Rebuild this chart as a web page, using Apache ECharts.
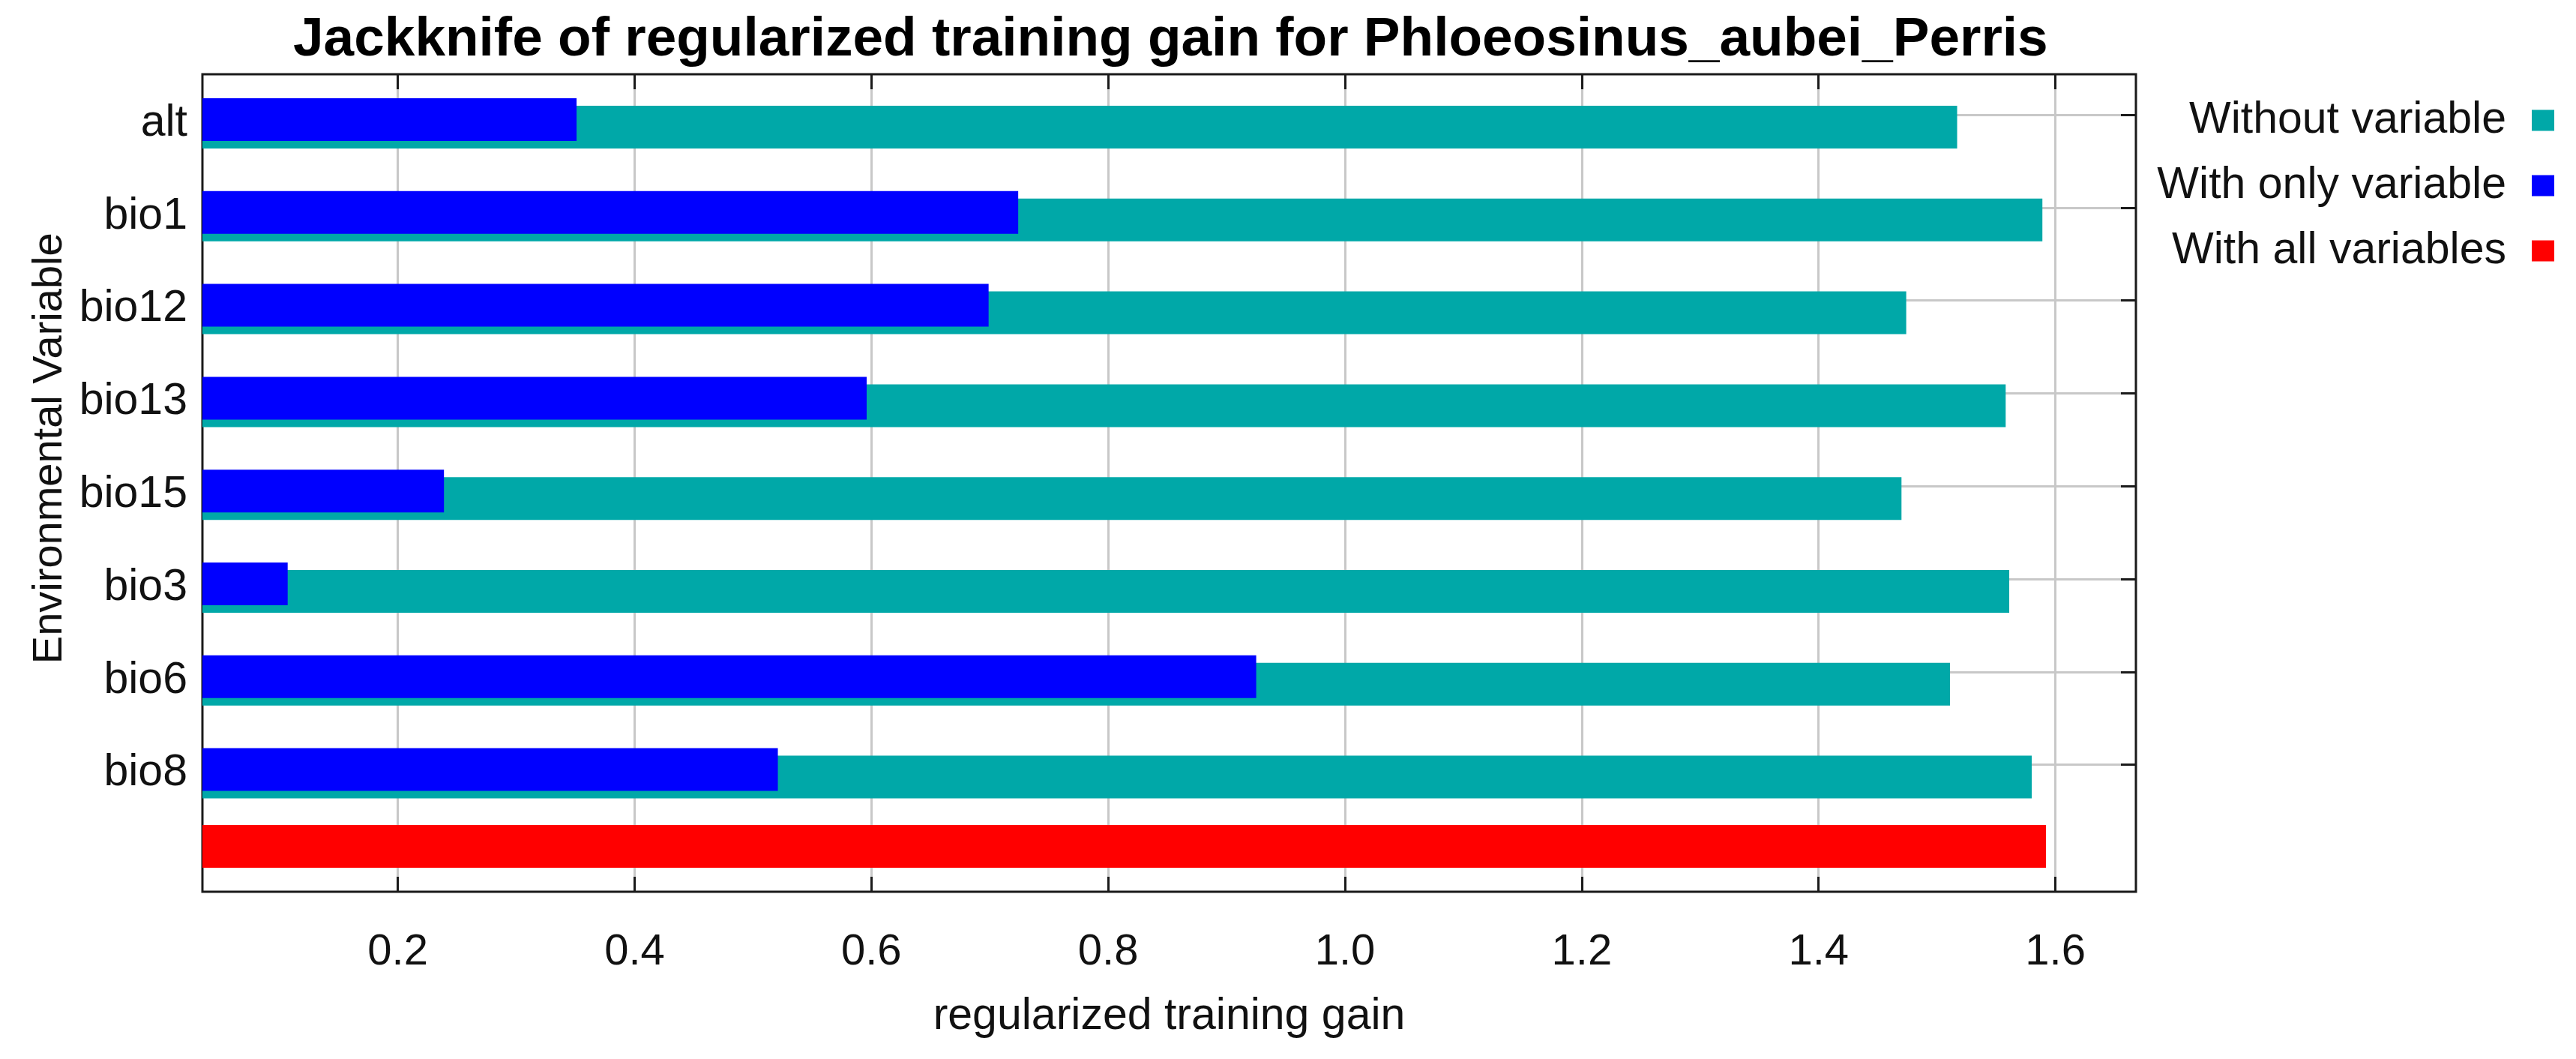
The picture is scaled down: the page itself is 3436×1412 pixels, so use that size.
<!DOCTYPE html>
<html><head><meta charset="utf-8">
<script src="https://cdn.jsdelivr.net/npm/echarts@6/dist/echarts.min.js"></script>
<style>html,body{margin:0;padding:0;background:#fff}#c{width:3436px;height:1412px}</style>
</head><body><div id="c"></div>
<script>
const categories = ['alt','bio1','bio12','bio13','bio15','bio3','bio6','bio8'];
const withoutVariable = [1.517, 1.589, 1.474, 1.558, 1.470, 1.561, 1.511, 1.580];
const withOnlyVariable = [0.351, 0.724, 0.699, 0.596, 0.239, 0.107, 0.925, 0.521];
const withAllVariables = [1.592];
const xTicks = [0.2, 0.4, 0.6, 0.8, 1.0, 1.2, 1.4, 1.6];
const xMin = 0.035, xMax = 1.668;
const seriesNames = ['Without variable', 'With only variable', 'With all variables'];
const colors = ['#00A8A8', '#0000FF', '#FF0000'];

const FONT = 'Liberation Sans, Arial, sans-serif';
const L = 270, R = 587;
const dark = '#1a1a1a', gridGray = '#c8c8c8';

const chart = echarts.init(document.getElementById('c'), null, {renderer: 'canvas'});
const allCats = categories.concat(['']);
const redData = categories.map(() => '-').concat(withAllVariables);

chart.setOption({
  animation: false,
  backgroundColor: '#fff',
  title: {
    text: 'Jackknife of regularized training gain for Phloeosinus_aubei_Perris',
    left: 386, top: 12,
    textStyle: {fontSize: 73, fontWeight: 'bold', color: '#000', fontFamily: FONT}
  },
  legend: {
    orient: 'vertical', right: 24, top: 126, align: 'right',
    itemWidth: 30, itemHeight: 28, itemGap: 28, icon: 'rect',
    selectedMode: false,
    data: seriesNames,
    textStyle: {fontSize: 59, color: '#111', fontFamily: FONT, padding: [0, 29, 0, 0]}
  },
  grid: [
    {left: L, right: R, top: 99, bottom: 223, show: true, borderColor: dark, borderWidth: 3, backgroundColor: 'transparent'},
    {left: L, right: R, top: 102.6, height: 990.4},
    {left: L, right: R, top: 153, height: 866.6}
  ],
  xAxis: [
    {
      gridIndex: 0, type: 'value', position: 'bottom', min: xMin, max: xMax,
      axisLine: {show: false},
      axisTick: {show: true, inside: true, length: 20, lineStyle: {color: dark, width: 3}, customValues: xTicks},
      axisLabel: {customValues: xTicks, formatter: v => v.toFixed(1), fontSize: 58, color: '#111', margin: 52, fontFamily: FONT},
      splitLine: {show: true, lineStyle: {color: gridGray, width: 3}},
      name: 'regularized training gain', nameLocation: 'middle', nameGap: 137,
      nameTextStyle: {fontSize: 59, color: '#111', fontFamily: FONT}
    },
    {
      gridIndex: 0, type: 'value', position: 'top', min: xMin, max: xMax,
      axisLine: {show: false}, axisLabel: {show: false}, splitLine: {show: false},
      axisTick: {show: true, inside: true, length: 20, lineStyle: {color: dark, width: 3}, customValues: xTicks}
    },
    {gridIndex: 1, type: 'value', min: xMin, max: xMax, show: false},
    {gridIndex: 2, type: 'value', min: xMin, max: xMax, show: false}
  ],
  yAxis: [
    {gridIndex: 0, type: 'category', data: allCats, inverse: true, show: false},
    {
      gridIndex: 1, type: 'category', data: categories, inverse: true,
      axisLine: {show: false}, axisTick: {show: false}, splitLine: {show: false},
      axisLabel: {fontSize: 59, color: '#111', margin: 20, fontFamily: FONT},
      name: 'Environmental Variable', nameLocation: 'middle', nameGap: 172,
      nameTextStyle: {fontSize: 56, color: '#111', fontFamily: FONT}
    },
    {
      gridIndex: 2, type: 'category', data: categories, inverse: true, boundaryGap: false,
      position: 'right', axisLine: {show: false}, axisLabel: {show: false},
      axisTick: {show: true, inside: true, length: 20, lineStyle: {color: dark, width: 3}},
      splitLine: {show: true, lineStyle: {color: gridGray, width: 3}}
    }
  ],
  series: [
    {
      name: seriesNames[1], type: 'bar', xAxisIndex: 2, yAxisIndex: 1,
      data: withOnlyVariable, barWidth: 57, barGap: '-82.5%', z: 3,
      itemStyle: {color: colors[1]}
    },
    {
      name: seriesNames[0], type: 'bar', xAxisIndex: 2, yAxisIndex: 1,
      data: withoutVariable, barWidth: 57, barGap: '-82.5%', z: 2,
      itemStyle: {color: colors[0]}
    },
    {
      name: seriesNames[2], type: 'bar', xAxisIndex: 0, yAxisIndex: 0,
      data: redData, barWidth: 57, z: 2,
      itemStyle: {color: colors[2]}
    }
  ]
});
</script></body></html>
